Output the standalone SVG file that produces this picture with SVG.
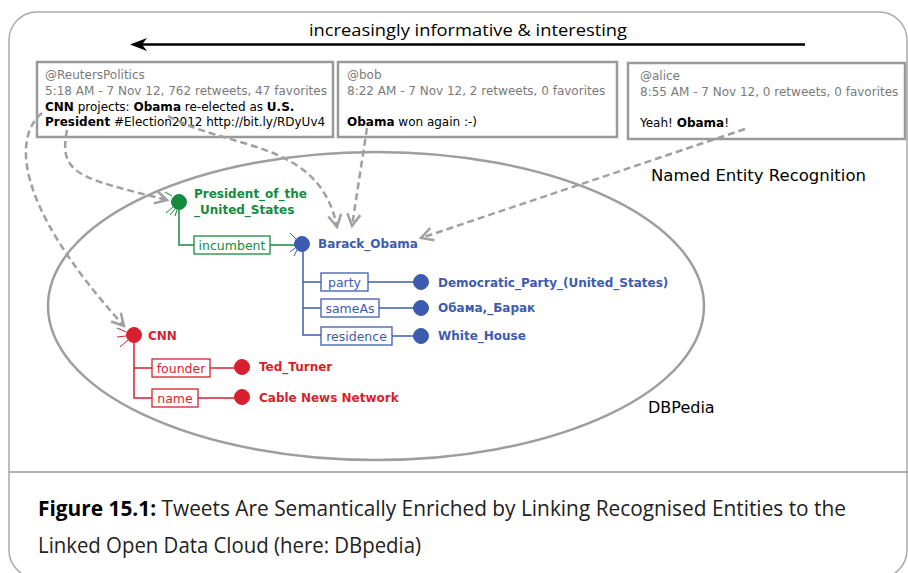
<svg xmlns="http://www.w3.org/2000/svg" width="908" height="573" viewBox="0 0 908 573">
<style>
.tw{fill:none;stroke:#9a9a9a;stroke-width:2.5}
.tt{font-family:"DejaVu Sans",sans-serif;font-size:12px}
.gr{fill:#7a7a7a}
.bk{fill:#000}
.b{font-weight:bold}
.dash{fill:none;stroke:#a0a0a0;stroke-width:2.5;stroke-dasharray:7 4}
.lbl{font-family:"DejaVu Sans",sans-serif;font-size:12px;font-weight:bold}
.el{font-family:"DejaVu Sans",sans-serif;font-size:12.5px}
.g{fill:#168a3e;stroke:#168a3e}
.bl{fill:#3d5caf;stroke:#3d5caf}
.r{fill:#d81f2d;stroke:#d81f2d}
.ln{fill:none;stroke-width:1.5}
.st{fill:none;stroke-width:1}
.box{fill:#fff;stroke-width:1.3}
</style>
<defs>
<marker id="ah" viewBox="-15 -9 17 18" refX="0" refY="0" markerWidth="17" markerHeight="18" markerUnits="userSpaceOnUse" orient="auto">
<path d="M-12,-6.5 L0,0 L-12,6.5" fill="none" stroke="#a0a0a0" stroke-width="2.5" stroke-dasharray="none"/>
</marker>
</defs>
<rect width="908" height="573" fill="#fff"/>
<rect x="9" y="12" width="898" height="566" rx="28" fill="none" stroke="#aaaaaa" stroke-width="1.5"/>
<line x1="9" y1="472" x2="908" y2="472" stroke="#999" stroke-width="1.5"/>

<g id="title">
<text x="468" y="36" text-anchor="middle" font-family="'Open Sans',sans-serif" font-size="17" textLength="318" lengthAdjust="spacingAndGlyphs" fill="#000">increasingly informative &amp; interesting</text>
<line x1="805" y1="44.5" x2="140" y2="44.5" stroke="#000" stroke-width="2.6"/>
<polygon points="130,44.5 147,38 142,44.5 147,51" fill="#000"/>
</g>

<g id="tweet-reuters">
<rect class="tw" x="37" y="62" width="296" height="75"/>
<text class="tt gr" x="45" y="79">@ReutersPolitics</text>
<text class="tt gr" x="45" y="95" textLength="282">5:18 AM - 7 Nov 12, 762 retweets, 47 favorites</text>
<text class="tt bk" x="45" y="111"><tspan class="b">CNN</tspan> projects: <tspan class="b">Obama</tspan> re-elected as <tspan class="b">U.S.</tspan></text>
<text class="tt bk" x="45" y="126"><tspan class="b">President</tspan> #Election2012 http://bit.ly/RDyUv4</text>
</g>

<g id="tweet-bob">
<rect class="tw" x="338" y="62" width="279" height="75"/>
<text class="tt gr" x="347" y="79">@bob</text>
<text class="tt gr" x="347" y="95">8:22 AM - 7 Nov 12, 2 retweets, 0 favorites</text>
<text class="tt bk" x="347" y="126"><tspan class="b">Obama</tspan> won again :-)</text>
</g>

<g id="tweet-alice">
<rect class="tw" x="628" y="63" width="277" height="76"/>
<text class="tt gr" x="640" y="80">@alice</text>
<text class="tt gr" x="640" y="96">8:55 AM - 7 Nov 12, 0 retweets, 0 favorites</text>
<text class="tt bk" x="640" y="127">Yeah! <tspan class="b">Obama</tspan>!</text>
</g>

<text x="651" y="181" font-family="'DejaVu Sans',sans-serif" font-size="16.5" fill="#000">Named Entity Recognition</text>

<g id="dbpedia">
<ellipse cx="376" cy="306" rx="328" ry="154" fill="none" stroke="#9e9e9e" stroke-width="2.5"/>
<text x="648" y="413" font-family="'DejaVu Sans',sans-serif" font-size="16" fill="#000">DBPedia</text>
</g>

<g id="node-president">
<g class="g">
<line class="st" x1="172" y1="196" x2="165" y2="192"/>
<line class="st" x1="173" y1="207" x2="166" y2="213"/>
<line class="st" x1="175" y1="209" x2="170" y2="215"/>
<line class="st" x1="177" y1="210" x2="175" y2="216"/>
<path class="ln" d="M179,208 V245 H194"/>
<line class="ln" x1="270" y1="245" x2="296" y2="245"/>
<circle cx="179" cy="202" r="7.5"/>
<rect class="box" x="194" y="236" width="76" height="18"/>
<text class="el" x="232" y="250" text-anchor="middle" stroke="none">incumbent</text>
<text class="lbl" x="194" y="198" stroke="none">President_of_the</text>
<text class="lbl" x="194" y="214" stroke="none">_United_States</text>
</g>
</g>

<g id="node-obama">
<g class="bl">
<line class="st" x1="296" y1="239" x2="290" y2="233"/>
<line class="st" x1="295" y1="248" x2="290" y2="252"/>
<line class="st" x1="297" y1="250" x2="294" y2="256"/>
<path class="ln" d="M303,250 V335 H321 M303,282 H321 M303,308 H321"/>
<line class="ln" x1="368" y1="282" x2="414" y2="282"/>
<line class="ln" x1="379" y1="308" x2="414" y2="308"/>
<line class="ln" x1="392" y1="336" x2="414" y2="336"/>
<circle cx="302" cy="244" r="7.5"/>
<text class="lbl" x="318" y="248" stroke="none">Barack_Obama</text>
<rect class="box" x="321" y="273" width="47" height="18"/>
<text class="el" x="344.5" y="287" text-anchor="middle" stroke="none">party</text>
<rect class="box" x="321" y="299" width="58" height="18"/>
<text class="el" x="350" y="313" text-anchor="middle" stroke="none">sameAs</text>
<rect class="box" x="321" y="327" width="71" height="18"/>
<text class="el" x="356.5" y="341" text-anchor="middle" stroke="none">residence</text>
<circle cx="421" cy="282" r="7.5"/>
<circle cx="421" cy="308" r="7.5"/>
<circle cx="421" cy="336" r="7.5"/>
<text class="lbl" x="438" y="287" stroke="none">Democratic_Party_(United_States)</text>
<text class="lbl" x="438" y="312" stroke="none">Обама,_Барак</text>
<text class="lbl" x="438" y="340" stroke="none">White_House</text>
</g>
</g>

<g id="node-cnn">
<g class="r">
<line class="st" x1="126" y1="332" x2="117" y2="328"/>
<line class="st" x1="126" y1="336" x2="117" y2="337"/>
<line class="st" x1="128" y1="340" x2="120" y2="347"/>
<path class="ln" d="M134,342 V398 H152 M134,368 H152"/>
<line class="ln" x1="210" y1="368" x2="236" y2="368"/>
<line class="ln" x1="198" y1="398" x2="236" y2="398"/>
<circle cx="134" cy="335" r="7.5"/>
<text class="lbl" x="148" y="340" stroke="none">CNN</text>
<rect class="box" x="152" y="359" width="58" height="18"/>
<text class="el" x="181" y="373" text-anchor="middle" stroke="none">founder</text>
<rect class="box" x="152" y="389" width="46" height="18"/>
<text class="el" x="175" y="403" text-anchor="middle" stroke="none">name</text>
<circle cx="242" cy="367" r="7.5"/>
<circle cx="242" cy="397" r="7.5"/>
<text class="lbl" x="259" y="371" stroke="none">Ted_Turner</text>
<text class="lbl" x="259" y="402" stroke="none">Cable News Network</text>
</g>
</g>

<g id="connectors">
<path class="dash" d="M42,113 C15,135 10,200 124,326" marker-end="url(#ah)"/>
<path class="dash" d="M67,130 C58,175 80,178 167,200" marker-end="url(#ah)"/>
<path class="dash" d="M168,116 C230,150 320,140 337,227" marker-end="url(#ah)"/>
<path class="dash" d="M367,128 L352,226" marker-end="url(#ah)"/>
<path class="dash" d="M745,129 L421,238" marker-end="url(#ah)"/>
</g>

<g id="caption" font-family="'Open Sans',sans-serif" font-size="22" fill="#222">
<text x="38" y="516" textLength="808" lengthAdjust="spacingAndGlyphs"><tspan font-weight="bold" fill="#000">Figure 15.1:</tspan> Tweets Are Semantically Enriched by Linking Recognised Entities to the</text>
<text x="38" y="553" textLength="383" lengthAdjust="spacingAndGlyphs">Linked Open Data Cloud (here: DBpedia)</text>
</g>
</svg>
